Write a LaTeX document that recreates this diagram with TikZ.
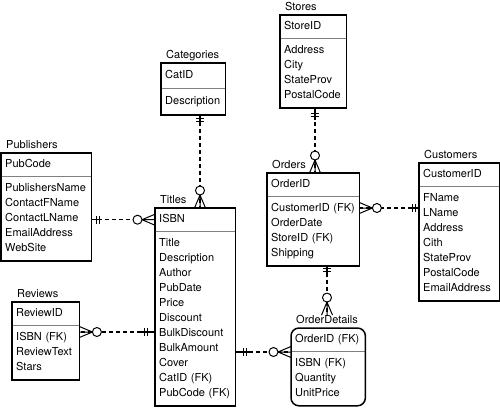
\documentclass[tikz,border=0pt]{standalone}
\usepackage{fontspec}
\setmainfont{TeX Gyre Heros}
\usetikzlibrary{calc,decorations.markings}
\begin{document}
\begin{tikzpicture}[x=1pt,y=-1pt,
    every node/.style={font=\fontsize{11}{15}\selectfont},
    keypart/.style={anchor=north west,text width=#1,align=left,inner xsep=4pt,inner ysep=4pt,execute at begin node=\strut},
    attrpart/.style={anchor=north west,text width=#1,align=left,inner xsep=4pt,inner ysep=4.5pt,execute at begin node=\strut,execute at end node=\strut},
    enttitle/.style={anchor=base west,inner sep=0pt},
    boxline/.style={line width=1.5pt},
    sepline/.style={gray,line width=0.8pt},
    rel/.style={line width=1.3pt,dash pattern=on 4pt off 3pt},
    onestart/.style={postaction={decorate,decoration={markings,mark=at position 0pt with {\draw[solid,line width=1.3pt] (0pt,0pt)--(#1+6pt,0pt);
        \draw[solid,line width=1pt] (#1,-4pt)--(#1,4pt) (#1+3pt,-4pt)--(#1+3pt,4pt);}}}},
    onestart/.default=5pt,
    manyend/.style={postaction={decorate,decoration={markings,mark=at position 1 with {\draw[solid,line width=1pt] (-13pt,0pt)--(0pt,-5.5pt) (-13pt,0pt)--(0pt,0pt) (-13pt,0pt)--(0pt,5.5pt);
        \draw[solid,line width=1pt,fill=white] (-17.5pt,0pt) circle (4.5pt);}}}}]
\useasboundingbox (0,0) rectangle (500,408);

% entities
\node[keypart=82pt] (pub-key) at (1,153) {PubCode};
\node[attrpart=82pt] (pub-attr) at (pub-key.south west) {PublishersName\\ContactFName\\ContactLName\\EmailAddress\\WebSite};
\node[enttitle] (pub-title) at ($(pub-key.north west)+(5,-4.5)$) {Publishers};

\node[keypart=56pt,minimum height=25pt] (cat-key) at (161,63) {CatID};
\node[attrpart=56pt,minimum height=26pt] (cat-attr) at (cat-key.south west) {Description};
\node[enttitle] (cat-title) at ($(cat-key.north west)+(5,-4.5)$) {Categories};

\node[keypart=58pt] (sto-key) at (280,15) {StoreID};
\node[attrpart=58pt] (sto-attr) at (sto-key.south west) {Address\\City\\StateProv\\PostalCode};
\node[enttitle] (sto-title) at ($(sto-key.north west)+(5,-4.5)$) {Stores};

\node[keypart=84pt] (ord-key) at (267,173) {OrderID};
\node[attrpart=84pt] (ord-attr) at (ord-key.south west) {CustomerID (FK)\\OrderDate\\StoreID (FK)\\Shipping};
\node[enttitle] (ord-title) at ($(ord-key.north west)+(5,-4.5)$) {Orders};

\node[keypart=72pt] (cus-key) at (419,163) {CustomerID};
\node[attrpart=72pt] (cus-attr) at (cus-key.south west) {FName\\LName\\Address\\Cith\\StateProv\\PostalCode\\EmailAddress};
\node[enttitle] (cus-title) at ($(cus-key.north west)+(5,-4.5)$) {Customers};

\node[keypart=59pt] (rev-key) at (12,302) {ReviewID};
\node[attrpart=59pt] (rev-attr) at (rev-key.south west) {ISBN (FK)\\ReviewText\\Stars};
\node[enttitle] (rev-title) at ($(rev-key.north west)+(5,-4.5)$) {Reviews};

\node[keypart=72pt] (tit-key) at (155,208) {ISBN};
\node[attrpart=72pt] (tit-attr) at (tit-key.south west) {Title\\Description\\Author\\PubDate\\Price\\Discount\\BulkDiscount\\BulkAmount\\Cover\\CatID (FK)\\PubCode (FK)};
\node[enttitle] (tit-title) at ($(tit-key.north west)+(5,-4.5)$) {Titles};

\node[keypart=66pt] (od-key) at (291,328) {OrderID (FK)};
\node[attrpart=66pt] (od-attr) at (od-key.south west) {ISBN (FK)\\Quantity\\UnitPrice};
\node[enttitle] (od-title) at ($(od-key.north west)+(5,-4.5)$) {OrderDetails};

\foreach \e in {pub,cat,sto,ord,cus,rev,tit}{
  \draw[sepline] (\e-key.south west)--(\e-key.south east);
  \draw[boxline] (\e-key.north west) rectangle (\e-attr.south east);
}
\draw[sepline] (od-key.south west)--(od-key.south east);
\draw[boxline,rounded corners=8pt] (od-key.north west) rectangle (od-attr.south east);

% relationships
\coordinate (cat-x) at (200,0);
\coordinate (sto-x) at (315,0);
\coordinate (od-x) at (327,0);
\coordinate (cus-y) at (0,208);
\coordinate (od-y) at (0,352);
\coordinate (rev-y) at (0,332);
\draw[rel,onestart,manyend] (pub-attr.east |- tit-key.west)--(tit-key.west);
\draw[rel,onestart=4pt,manyend] (cat-attr.south -| cat-x)--(tit-key.north -| cat-x);
\draw[rel,onestart=6pt,manyend] (sto-attr.south -| sto-x)--(ord-key.north -| sto-x);
\draw[rel,onestart=4pt,manyend] (cus-attr.west |- cus-y)--(ord-attr.east |- cus-y);
\draw[rel,onestart=3pt,manyend] (ord-attr.south -| od-x)--(od-title.north -| od-x);
\draw[rel,onestart=8pt,manyend] (tit-attr.east |- od-y)--(od-attr.west |- od-y);
\draw[rel,onestart=8pt,manyend] (tit-attr.west |- rev-y)--(rev-attr.east |- rev-y);

\end{tikzpicture}
\end{document}
